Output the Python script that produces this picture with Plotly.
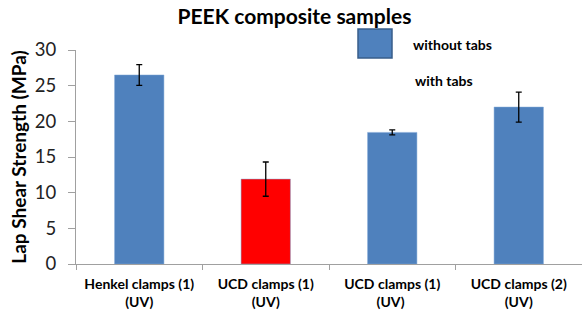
import plotly.graph_objects as go

categories = ["Henkel clamps (1)<br>(UV)", "UCD clamps (1)<br>(UV)", "UCD clamps (1)<br>(UV) ", "UCD clamps (2)<br>(UV)"]
values = [26.5, 11.9, 18.45, 22.0]
errors = [1.45, 2.4, 0.35, 2.1]
colors = ["#4F81BD", "#FF0000", "#4F81BD", "#4F81BD"]
y_ticks = [0, 5, 10, 15, 20, 25, 30]

W, H = 582, 316
L, R, T, B = 76, 0, 50, 52

fig = go.Figure()
fig.add_trace(go.Bar(
    x=categories, y=values,
    marker=dict(color=colors, line=dict(color="#7FA6D6", width=0.5)),
    width=0.39,
    error_y=dict(type="data", array=errors, visible=True, color="black", thickness=1.3, width=3),
    showlegend=False,
))

fig.update_layout(
    width=W, height=H,
    margin=dict(l=L, r=R, t=T, b=B, autoexpand=False),
    plot_bgcolor="white", paper_bgcolor="white",
    font=dict(family="Lato", color="#222"),
    title=dict(text="<b>PEEK composite samples</b>", x=(294.5) / W, xanchor="center",
               y=1 - 17 / H, yanchor="middle", font=dict(size=21, color="black", family="Lato")),
    xaxis=dict(showline=True, linecolor="#A0A0A0", linewidth=1, ticks="outside", tickson="boundaries",
               tickcolor="#A0A0A0", ticklen=5, tickfont=dict(size=14, color="black", family="Lato"),
               showgrid=False, tickangle=0, automargin=False, ticklabelstandoff=7,
               tickvals=categories,
               ticktext=["<b>" + c.replace("<br>", "</b><br><b>") + "</b>" for c in categories]),
    yaxis=dict(range=[0, 30], tickvals=y_ticks, showline=True, linecolor="#A0A0A0", linewidth=1,
               ticks="outside", tickcolor="#A0A0A0", ticklen=7, showgrid=False, zeroline=False,
               automargin=False, ticklabelstandoff=8,
               tickfont=dict(size=18.5, color="#222", family="Lato"),
               title=dict(text="<b>Lap Shear Strength (MPa)</b>", font=dict(size=19, color="black", family="Lato"),
                          standoff=3)),
    bargap=0.61,
)

pw = W - L - R
ph = H - T - B
def px(x): return (x - L) / pw
def py(y): return (H - B - y) / ph

fig.add_shape(type="rect", xref="paper", yref="paper",
              x0=px(358), x1=px(392), y0=py(58), y1=py(29),
              fillcolor="#4F81BD", line=dict(color="#385D8A", width=1.5))
fig.add_annotation(xref="paper", yref="paper", x=px(411), y=py(44), text="<b>without tabs</b>",
                   showarrow=False, xanchor="left", yanchor="middle",
                   font=dict(size=14, color="black", family="Lato"))
fig.add_annotation(xref="paper", yref="paper", x=px(413), y=py(80), text="<b>with tabs</b>",
                   showarrow=False, xanchor="left", yanchor="middle",
                   font=dict(size=14, color="black", family="Lato"))

fig.write_html("out.html", config={"displayModeBar": False},
               post_script="document.body.style.margin='0';document.body.style.overflow='hidden';")
